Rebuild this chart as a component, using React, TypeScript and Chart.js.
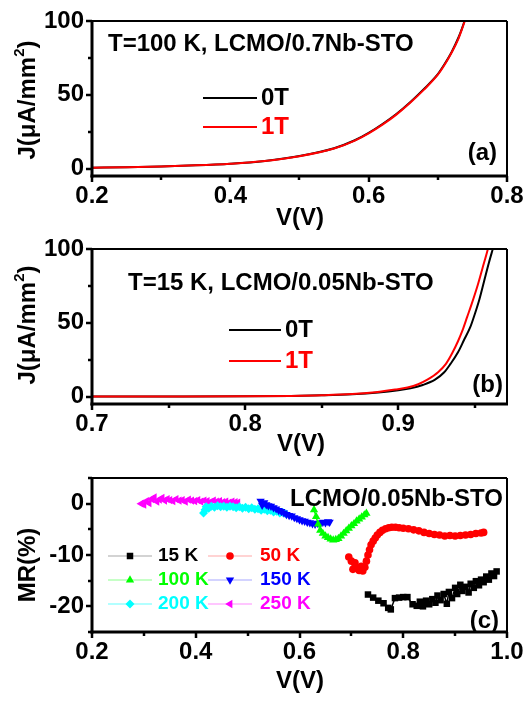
import React, { useEffect, useRef } from "react";
import { Chart, registerables } from "chart.js";

Chart.register(...registerables);

const FONT = "'Liberation Sans', Arial, Helvetica, sans-serif";
const W = 527;
const PLOT_LEFT = 92;
const PLOT_RIGHT = 507;

// ---------------- Panel (a) data ----------------
const A_V = [0.2, 0.25, 0.3, 0.35, 0.4, 0.45, 0.5, 0.55, 0.58, 0.6, 0.62, 0.64, 0.66, 0.68, 0.7, 0.71, 0.72, 0.73, 0.735, 0.74];
const A_J_0T = [0.6, 1.0, 1.5, 2.2, 3.3, 5.2, 8.5, 13.8, 19.2, 24.2, 30.2, 37.0, 45.0, 54.0, 64.0, 71.0, 79.0, 89.0, 95.0, 102.0];
const A_J_1T = [0.6, 1.0, 1.5, 2.2, 3.3, 5.1, 8.4, 13.6, 19.0, 23.9, 29.8, 36.6, 44.6, 53.5, 63.6, 70.5, 78.6, 88.3, 94.6, 101.5];
const A_X_TICKS = [0.2, 0.4, 0.6, 0.8];
const A_X_MINOR = [0.3, 0.5, 0.7];
const A_Y_TICKS = [0, 50, 100];
const A_Y_MINOR = [25, 75];
const A_NOTE = "T=100 K, LCMO/0.7Nb-STO";

// ---------------- Panel (b) data ----------------
const B_V_0T = [0.7, 0.75, 0.8, 0.83, 0.85, 0.87, 0.887, 0.9, 0.908, 0.916, 0.924, 0.93, 0.934, 0.939, 0.943, 0.947, 0.95, 0.953, 0.956, 0.959, 0.962, 0.965];
const B_J_0T = [0, 0.05, 0.2, 0.5, 0.9, 1.6, 2.8, 4.3, 5.6, 7.9, 11.5, 16.5, 22, 30, 38.5, 47, 56, 66, 78, 90, 101, 112];
const B_V_1T = [0.7, 0.75, 0.8, 0.83, 0.85, 0.87, 0.885, 0.898, 0.906, 0.913, 0.919, 0.926, 0.931, 0.935, 0.939, 0.942, 0.945, 0.948, 0.952, 0.955, 0.958, 0.961];
const B_J_1T = [0, 0.05, 0.2, 0.5, 0.9, 1.7, 3.0, 4.8, 6.2, 8.4, 11.5, 16.5, 22, 29, 37.5, 45, 54, 63, 76, 87, 98, 110];
const B_X_TICKS = [0.7, 0.8, 0.9];
const B_X_MINOR = [0.75, 0.85, 0.95];
const B_Y_TICKS = [0, 50, 100];
const B_Y_MINOR = [25, 75];
const B_NOTE = "T=15 K, LCMO/0.05Nb-STO";

const AB_SERIES = ["0T", "1T"];

// ---------------- Panel (c) data ----------------
const C_V_15K = [0.732, 0.742, 0.752, 0.762, 0.771, 0.776, 0.784, 0.792, 0.8, 0.808, 0.818, 0.826, 0.832, 0.838, 0.844, 0.85, 0.856, 0.862, 0.866, 0.872, 0.878, 0.884, 0.888, 0.894, 0.9, 0.904, 0.91, 0.914, 0.92, 0.926, 0.93, 0.936, 0.94, 0.946, 0.95, 0.955, 0.96, 0.965, 0.97, 0.975, 0.98];
const C_MR_15K = [-17.7, -18.3, -18.9, -19.4, -20.3, -20.6, -18.4, -18.3, -18.2, -18.2, -19.6, -19.9, -19.1, -20.0, -18.9, -19.6, -18.6, -19.3, -17.9, -18.8, -17.6, -19.5, -17.2, -18.4, -16.4, -17.6, -15.8, -17.0, -16.2, -17.3, -15.6, -16.4, -15.1, -15.9, -14.8, -15.3, -14.2, -14.8, -13.6, -14.1, -13.2];

const C_V_50K = [0.695, 0.7, 0.703, 0.707, 0.711, 0.715, 0.719, 0.722, 0.726, 0.729, 0.732, 0.735, 0.738, 0.742, 0.746, 0.75, 0.755, 0.76, 0.766, 0.772, 0.778, 0.785, 0.792, 0.8, 0.81, 0.82, 0.83, 0.84, 0.85, 0.86, 0.87, 0.88, 0.89, 0.9, 0.91, 0.92, 0.93, 0.94, 0.95, 0.955];
const C_MR_50K = [-10.4, -11.2, -12.8, -11.5, -12.6, -13.0, -12.2, -13.1, -12.4, -11.2, -10.0, -9.0, -8.0, -7.3, -6.7, -6.1, -5.6, -5.2, -4.9, -4.7, -4.6, -4.6, -4.7, -4.8, -4.9, -5.1, -5.3, -5.6, -5.8, -6.0, -6.1, -6.3, -6.2, -6.3, -6.2, -6.1, -6.0, -5.8, -5.7, -5.6];

const C_V_100K = [0.628, 0.632, 0.636, 0.64, 0.645, 0.65, 0.655, 0.66, 0.665, 0.67, 0.675, 0.68, 0.685, 0.69, 0.695, 0.7, 0.705, 0.71, 0.715, 0.72, 0.725, 0.729];
const C_MR_100K = [-1.2, -2.5, -4.0, -5.2, -5.8, -6.3, -6.6, -6.9, -7.1, -7.0, -6.8, -6.3, -5.8, -5.3, -4.8, -4.3, -3.9, -3.4, -3.0, -2.6, -2.2, -1.9];

const C_V_150K = [0.525, 0.528, 0.532, 0.536, 0.54, 0.545, 0.55, 0.555, 0.56, 0.565, 0.57, 0.575, 0.58, 0.585, 0.59, 0.595, 0.6, 0.605, 0.61, 0.615, 0.62, 0.625, 0.63, 0.635, 0.64, 0.645, 0.65, 0.655, 0.658];
const C_MR_150K = [0.5, -0.3, 0.2, -0.2, -0.4, -0.5, -0.8, -1.0, -1.3, -1.5, -1.8, -2.1, -2.3, -2.4, -2.7, -2.9, -3.1, -3.3, -3.4, -3.6, -3.7, -3.9, -4.0, -3.8, -3.9, -3.6, -3.7, -3.5, -3.6];

const C_V_200K = [0.415, 0.418, 0.42, 0.425, 0.43, 0.436, 0.442, 0.448, 0.454, 0.46, 0.466, 0.472, 0.478, 0.484, 0.49, 0.496, 0.502, 0.508, 0.514, 0.52, 0.526, 0.532, 0.538, 0.544, 0.55, 0.556, 0.562, 0.568, 0.574];
const C_MR_200K = [-1.8, -1.2, -0.6, -0.9, -0.5, -0.7, -0.4, -0.6, -0.5, -0.7, -0.5, -0.6, -0.8, -0.6, -0.9, -0.7, -1.0, -0.8, -1.1, -1.0, -1.3, -1.1, -1.4, -1.3, -1.6, -1.5, -1.8, -1.7, -2.0];

const C_V_250K = [0.295, 0.3, 0.305, 0.31, 0.315, 0.32, 0.325, 0.33, 0.335, 0.34, 0.345, 0.35, 0.356, 0.362, 0.368, 0.374, 0.38, 0.386, 0.392, 0.398, 0.404, 0.41, 0.416, 0.422, 0.428, 0.434, 0.44, 0.446, 0.452, 0.458, 0.464, 0.47, 0.476, 0.481];
const C_MR_250K = [0.0, -0.2, 0.5, 0.1, 0.9, 1.2, 0.4, 0.8, 1.1, 0.6, 0.9, 0.7, 0.5, 0.9, 0.6, 0.7, 0.4, 0.8, 0.6, 0.5, 0.7, 0.4, 0.6, 0.5, 0.3, 0.6, 0.4, 0.5, 0.3, 0.4, 0.2, 0.4, 0.3, 0.2];

const C_LABELS = ["15 K", "50 K", "100 K", "150 K", "200 K", "250 K"];
const C_X_TICKS = [0.2, 0.4, 0.6, 0.8, 1.0];
const C_X_MINOR = [0.3, 0.5, 0.7, 0.9];
const C_Y_TICKS = [0, -10, -20];
const C_Y_MINOR = [5, -5, -15, -25];
const C_NOTE = "LCMO/0.05Nb-STO";

const X_TITLE = "V(V)";
const Y_TITLE_J = ["J(\u03bcA/mm", "2", ")"];
const Y_TITLE_MR = "MR(%)";
const TAGS = ["(a)", "(b)", "(c)"];

// styles
const C_COLORS = ["#000000", "#ff0000", "#00ff00", "#0000ff", "#00ffff", "#ff00ff"];
const C_LEGEND_LINE = ["rgba(0,0,0,0.35)", "rgba(255,0,0,0.35)", "rgba(0,255,0,0.45)", "rgba(0,0,255,0.35)", "rgba(0,255,255,0.6)", "rgba(255,0,255,0.45)"];
const C_MARKERS: { style: string; rot: number; r: number }[] = [
  { style: "rect", rot: 0, r: 4.6 },
  { style: "circle", rot: 0, r: 3.8 },
  { style: "triangle", rot: 0, r: 4.8 },
  { style: "triangle", rot: 180, r: 4.8 },
  { style: "rectRot", rot: 0, r: 4.5 },
  { style: "triangle", rot: -90, r: 4.8 },
];

const zip = (xs: number[], ys: number[]) => xs.map((x, i) => ({ x, y: ys[i] }));

function drawMarker(ctx: CanvasRenderingContext2D, style: string, rot: number, x: number, y: number, r: number, color: string) {
  ctx.save();
  ctx.fillStyle = color;
  ctx.translate(x, y);
  ctx.rotate((rot * Math.PI) / 180);
  ctx.beginPath();
  if (style === "rect") {
    const s = r * Math.SQRT1_2;
    ctx.rect(-s, -s, 2 * s, 2 * s);
  } else if (style === "circle") {
    ctx.arc(0, 0, r, 0, Math.PI * 2);
  } else if (style === "triangle") {
    ctx.moveTo(0, -r);
    ctx.lineTo(r * Math.sin((2 * Math.PI) / 3), -r * Math.cos((2 * Math.PI) / 3));
    ctx.lineTo(-r * Math.sin((2 * Math.PI) / 3), -r * Math.cos((2 * Math.PI) / 3));
    ctx.closePath();
  } else if (style === "rectRot") {
    ctx.moveTo(0, -r);
    ctx.lineTo(r, 0);
    ctx.lineTo(0, r);
    ctx.lineTo(-r, 0);
    ctx.closePath();
  }
  ctx.fill();
  ctx.restore();
}

type PanelCfg = {
  height: number;
  top: number;
  bottom: number;
  xMin: number;
  xMax: number;
  yMin: number;
  yMax: number;
  xTicks: number[];
  xMinor: number[];
  yTicks: number[];
  yMinor: number[];
  xFmt: (v: number) => string;
  datasets: any[];
  decorate: (ctx: CanvasRenderingContext2D, chart: any) => void;
};

function text(ctx: CanvasRenderingContext2D, s: string, x: number, y: number, size: number, color: string, align: CanvasTextAlign = "left") {
  ctx.font = `bold ${size}px ${FONT}`;
  ctx.fillStyle = color;
  ctx.textAlign = align;
  ctx.textBaseline = "middle";
  ctx.fillText(s, x, y);
}

function drawYTitleJ(ctx: CanvasRenderingContext2D, cx: number, cy: number) {
  ctx.save();
  ctx.translate(cx, cy);
  ctx.rotate(-Math.PI / 2);
  ctx.textBaseline = "middle";
  ctx.textAlign = "left";
  ctx.fillStyle = "#000";
  ctx.font = `bold 24px ${FONT}`;
  const w1 = ctx.measureText(Y_TITLE_J[0]).width;
  const w3 = ctx.measureText(Y_TITLE_J[2]).width;
  ctx.font = `bold 15px ${FONT}`;
  const w2 = ctx.measureText(Y_TITLE_J[1]).width;
  const x0 = -(w1 + w2 + w3) / 2;
  ctx.font = `bold 24px ${FONT}`;
  ctx.fillText(Y_TITLE_J[0], x0, 0);
  ctx.fillText(Y_TITLE_J[2], x0 + w1 + w2, 0);
  ctx.font = `bold 15px ${FONT}`;
  ctx.fillText(Y_TITLE_J[1], x0 + w1, -8);
  ctx.restore();
}

function drawYTitle(ctx: CanvasRenderingContext2D, s: string, cx: number, cy: number) {
  ctx.save();
  ctx.translate(cx, cy);
  ctx.rotate(-Math.PI / 2);
  text(ctx, s, 0, 0, 24, "#000", "center");
  ctx.restore();
}

function makePlugin(cfg: PanelCfg) {
  return {
    id: "decor",
    afterDraw(chart: any) {
      const ctx: CanvasRenderingContext2D = chart.ctx;
      const a = chart.chartArea;
      const xs = chart.scales.x;
      const ys = chart.scales.y;
      ctx.save();
      ctx.strokeStyle = "#000";
      const seg = (x1: number, y1: number, x2: number, y2: number, w: number) => {
        ctx.lineWidth = w;
        ctx.beginPath();
        ctx.moveTo(x1, y1);
        ctx.lineTo(x2, y2);
        ctx.stroke();
      };
      cfg.xTicks.forEach((v) => {
        const p = Math.round(xs.getPixelForValue(v));
        seg(p, a.bottom, p, a.bottom + 6, 2.5);
      });
      cfg.xMinor.forEach((v) => {
        const p = Math.round(xs.getPixelForValue(v));
        seg(p, a.bottom, p, a.bottom + 4, 2.5);
      });
      cfg.yTicks.forEach((v) => {
        const p = Math.round(ys.getPixelForValue(v));
        seg(a.left, p, a.left - 6, p, 2.5);
      });
      cfg.yMinor.forEach((v) => {
        const p = Math.round(ys.getPixelForValue(v));
        seg(a.left, p, a.left - 4, p, 2.5);
      });
      // frame
      seg(a.left, a.top, a.right, a.top, 2);
      seg(a.right, a.top, a.right, a.bottom, 2);
      seg(a.left, a.top - 1, a.left, a.bottom + 1.5, 3);
      seg(a.left - 1.5, a.bottom, a.right + 1, a.bottom, 3);
      cfg.decorate(ctx, chart);
      ctx.restore();
    },
  };
}

function buildChart(canvas: HTMLCanvasElement, cfg: PanelCfg) {
  const tickFont = { family: FONT, size: 24, weight: "bold" as const };
  return new Chart(canvas, {
    type: "scatter",
    data: { datasets: cfg.datasets },
    options: {
      responsive: false,
      animation: false,
      devicePixelRatio: 1,
      events: [],
      layout: { padding: { left: 0, right: W - PLOT_RIGHT, top: cfg.top, bottom: 0 } },
      plugins: { legend: { display: false }, tooltip: { enabled: false }, title: { display: false } },
      scales: {
        x: {
          type: "linear",
          position: "bottom",
          min: cfg.xMin,
          max: cfg.xMax,
          grid: { display: false, drawTicks: false },
          border: { display: false },
          ticks: {
            autoSkip: false,
            maxRotation: 0,
            padding: 6,
            color: "#000",
            font: tickFont,
            callback: (v: any) => cfg.xFmt(Number(v)),
          },
          afterBuildTicks: (s: any) => {
            s.ticks = cfg.xTicks.map((v) => ({ value: v }));
          },
          afterFit: (s: any) => {
            s.height = cfg.height - cfg.bottom;
            s.paddingLeft = 0;
            s.paddingRight = 0;
          },
        },
        y: {
          type: "linear",
          position: "left",
          min: cfg.yMin,
          max: cfg.yMax,
          grid: { display: false, drawTicks: false },
          border: { display: false },
          ticks: {
            autoSkip: false,
            padding: 8,
            color: "#000",
            font: tickFont,
            callback: (v: any) => String(v),
          },
          afterBuildTicks: (s: any) => {
            s.ticks = cfg.yTicks.map((v) => ({ value: v }));
          },
          afterFit: (s: any) => {
            s.width = PLOT_LEFT;
            s.paddingTop = 0;
            s.paddingBottom = 0;
          },
        },
      },
    } as any,
    plugins: [makePlugin(cfg)],
  });
}

function lineDs(label: string, xs: number[], ys: number[], color: string, order: number) {
  return {
    label,
    data: zip(xs, ys),
    showLine: true,
    borderColor: color,
    backgroundColor: color,
    borderWidth: 2,
    pointRadius: 0,
    cubicInterpolationMode: "monotone",
    order,
  };
}

function abLegend(ctx: CanvasRenderingContext2D, x1: number, x2: number, y0: number, y1: number) {
  ctx.lineWidth = 2;
  ctx.strokeStyle = "#000";
  ctx.beginPath();
  ctx.moveTo(x1, y0);
  ctx.lineTo(x2, y0);
  ctx.stroke();
  text(ctx, AB_SERIES[0], x2 + 4, y0, 24, "#000");
  ctx.strokeStyle = "#ff0000";
  ctx.beginPath();
  ctx.moveTo(x1, y1);
  ctx.lineTo(x2, y1);
  ctx.stroke();
  text(ctx, AB_SERIES[1], x2 + 4, y1, 24, "#ff0000");
}

const panelA: PanelCfg = {
  height: 230,
  top: 21,
  bottom: 176,
  xMin: 0.2,
  xMax: 0.8,
  yMin: -5,
  yMax: 100,
  xTicks: A_X_TICKS,
  xMinor: A_X_MINOR,
  yTicks: A_Y_TICKS,
  yMinor: A_Y_MINOR,
  xFmt: (v) => v.toFixed(1),
  datasets: [lineDs(AB_SERIES[0], A_V, A_J_0T, "#000000", 2), lineDs(AB_SERIES[1], A_V, A_J_1T, "#ff0000", 1)],
  decorate: (ctx) => {
    text(ctx, A_NOTE, 108, 44, 24, "#000");
    abLegend(ctx, 203, 257, 98, 127);
    text(ctx, TAGS[0], 497, 153, 24, "#000", "right");
    text(ctx, X_TITLE, 300, 218, 24, "#000", "center");
    drawYTitleJ(ctx, 28, 100);
  },
};

const panelB: PanelCfg = {
  height: 230,
  top: 19,
  bottom: 174,
  xMin: 0.7,
  xMax: 0.971,
  yMin: -5,
  yMax: 100,
  xTicks: B_X_TICKS,
  xMinor: B_X_MINOR,
  yTicks: B_Y_TICKS,
  yMinor: B_Y_MINOR,
  xFmt: (v) => v.toFixed(1),
  datasets: [lineDs(AB_SERIES[0], B_V_0T, B_J_0T, "#000000", 2), lineDs(AB_SERIES[1], B_V_1T, B_J_1T, "#ff0000", 1)],
  decorate: (ctx) => {
    text(ctx, B_NOTE, 128, 53, 24, "#000");
    abLegend(ctx, 229, 281, 100, 131);
    text(ctx, TAGS[1], 503, 155, 24, "#000", "right");
    text(ctx, X_TITLE, 301, 214, 24, "#000", "center");
    drawYTitleJ(ctx, 28, 95);
  },
};

const C_SERIES_X = [C_V_15K, C_V_50K, C_V_100K, C_V_150K, C_V_200K, C_V_250K];
const C_SERIES_Y = [C_MR_15K, C_MR_50K, C_MR_100K, C_MR_150K, C_MR_200K, C_MR_250K];

const panelC: PanelCfg = {
  height: 243,
  top: 18,
  bottom: 172,
  xMin: 0.2,
  xMax: 1.0,
  yMin: -25,
  yMax: 5,
  xTicks: C_X_TICKS,
  xMinor: C_X_MINOR,
  yTicks: C_Y_TICKS,
  yMinor: C_Y_MINOR,
  xFmt: (v) => v.toFixed(1),
  datasets: C_LABELS.map((label, i) => ({
    label,
    data: zip(C_SERIES_X[i], C_SERIES_Y[i]),
    showLine: true,
    borderColor: C_COLORS[i],
    backgroundColor: C_COLORS[i],
    borderWidth: 1.5,
    pointStyle: C_MARKERS[i].style,
    pointRotation: C_MARKERS[i].rot,
    pointRadius: C_MARKERS[i].r,
    pointBorderWidth: 0,
  })),
  decorate: (ctx) => {
    text(ctx, C_NOTE, 290, 39, 24, "#000");
    const rows = [96, 120, 144];
    const cols = [
      { x1: 108, x2: 152, tx: 158 },
      { x1: 208, x2: 252, tx: 260 },
    ];
    C_LABELS.forEach((label, i) => {
      const row = rows[Math.floor(i / 2)];
      const col = cols[i % 2];
      ctx.strokeStyle = C_LEGEND_LINE[i];
      ctx.lineWidth = 1.2;
      ctx.beginPath();
      ctx.moveTo(col.x1, row);
      ctx.lineTo(col.x2, row);
      ctx.stroke();
      drawMarker(ctx, C_MARKERS[i].style, C_MARKERS[i].rot, (col.x1 + col.x2) / 2, row, C_MARKERS[i].r, C_COLORS[i]);
      text(ctx, label, col.tx, row, 19, C_COLORS[i]);
    });
    text(ctx, TAGS[2], 499, 161, 24, "#000", "right");
    text(ctx, X_TITLE, 300, 221, 24, "#000", "center");
    drawYTitle(ctx, Y_TITLE_MR, 28, 105);
  },
};

function Panel({ cfg, top }: { cfg: PanelCfg; top: number }) {
  const ref = useRef<HTMLCanvasElement | null>(null);
  useEffect(() => {
    if (!ref.current) return;
    const chart = buildChart(ref.current, cfg);
    return () => chart.destroy();
  }, [cfg]);
  return (
    <canvas
      ref={ref}
      width={W}
      height={cfg.height}
      style={{ position: "absolute", left: 0, top, width: W, height: cfg.height, display: "block" }}
    />
  );
}

export default function App() {
  return (
    <div style={{ position: "fixed", left: 0, top: 0, width: W, height: 703, background: "#fff", overflow: "hidden" }}>
      <Panel cfg={panelA} top={0} />
      <Panel cfg={panelB} top={230} />
      <Panel cfg={panelC} top={460} />
    </div>
  );
}
